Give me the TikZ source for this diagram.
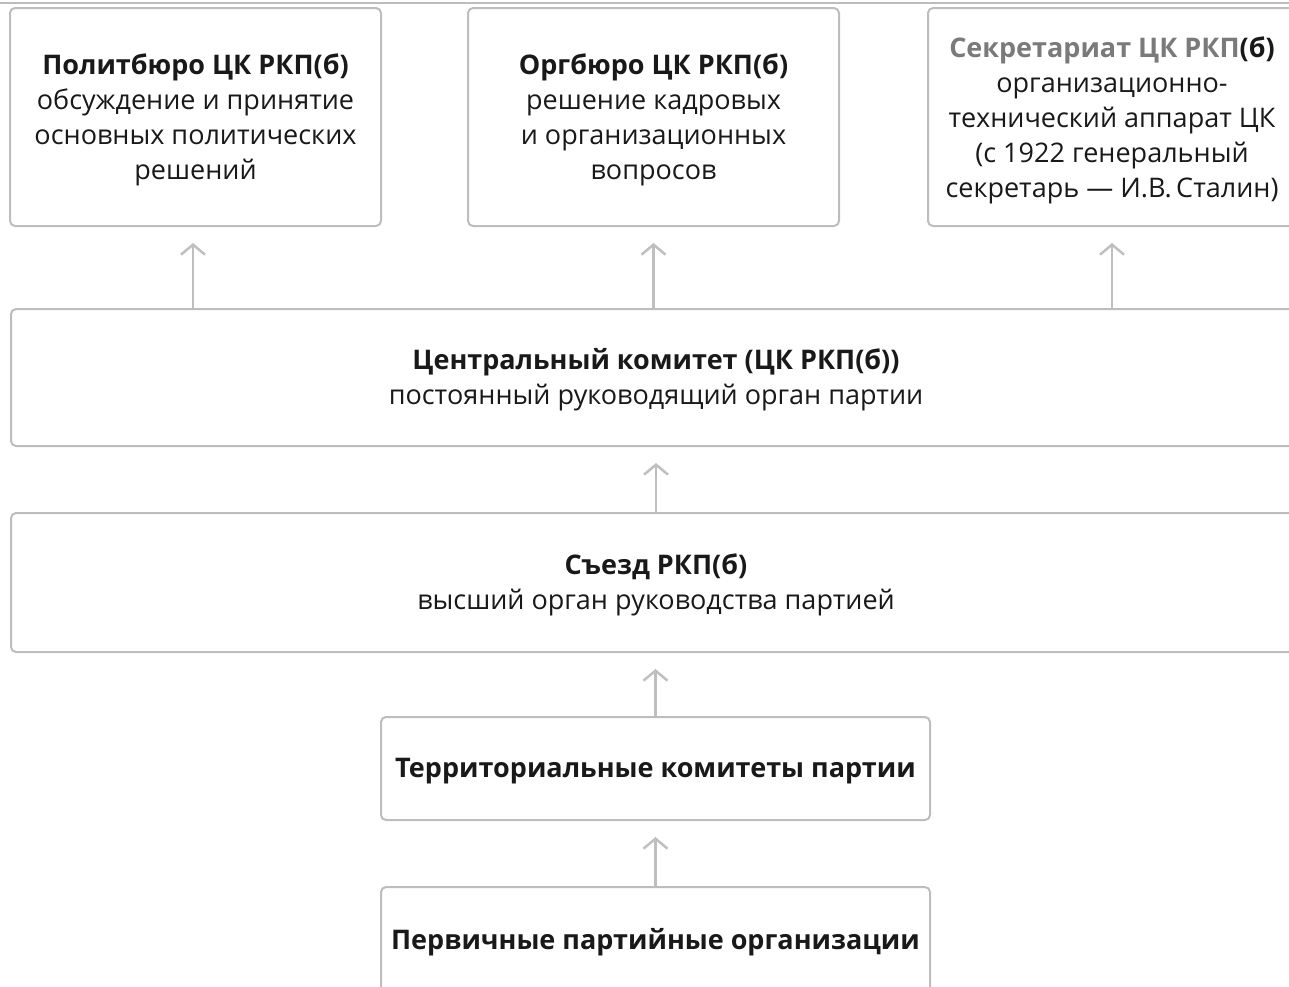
\documentclass[tikz,border=0pt]{standalone}
\usepackage{fontspec}
\setmainfont{Open Sans}
\usetikzlibrary{arrows.meta}
\definecolor{boxline}{HTML}{BDBDBD}
\definecolor{arrowc}{HTML}{BFBFBF}
\definecolor{titlegray}{HTML}{7A7A7A}
\begin{document}
\begin{tikzpicture}[x=1pt,y=-1pt,
  box/.style={draw=boxline,line width=2pt,rounded corners=5pt,fill=white,inner sep=0pt},
  txt/.style={align=center,font=\fontsize{27}{35}\selectfont,text=black!90,inner sep=0pt},
  up/.style={draw=arrowc,line width=2.5pt,-{Straight Barb[length=10pt,width=24pt,line width=2.5pt]}}]
\useasboundingbox (0,0) rectangle (1289,986);
\clip (0,0) rectangle (1289,986);
\draw[boxline,line width=2pt] (0,3) -- (1289,3);
% top row
\node[box,minimum width=371,minimum height=218] (pb) at (195.5,117) {};
\node[txt] (pbt) at (195.5,120) {\textbf{Политбюро ЦК РКП(б)}\\обсуждение и принятие\\основных политических\\решений};
\node[box,minimum width=371,minimum height=218] (ob) at (653.5,117) {};
\node[txt] (obt) at (653.5,120) {\textbf{Оргбюро ЦК РКП(б)}\\решение кадровых\\и организационных\\вопросов};
\node[box,minimum width=400,minimum height=218,anchor=west] (sk) at (927,117) {};
\node[txt] (skt) at (1112,120) {\textbf{\textcolor{titlegray}{Секретариат ЦК РКП}(б)}\\организационно-\\технический аппарат ЦК\\(с 1922 генеральный\\секретарь — И.В.\,Сталин)};
% CK
\node[box,minimum width=1320,minimum height=137,anchor=west] (ck) at (10,377.5) {};
\node[txt] (ckt) at (656,380) {\textbf{Центральный комитет (ЦК РКП(б))}\\постоянный руководящий орган партии};
% Congress
\node[box,minimum width=1320,minimum height=139,anchor=west] (sz) at (10,582.5) {};
\node[txt] (szt) at (656,585) {\textbf{Съезд РКП(б)}\\высший орган руководства партией};
% territorial
\node[box,minimum width=549,minimum height=103] (tk) at (655.5,768.5) {};
\node[txt] (tkt) at (655.5,771) {\textbf{Территориальные комитеты партии}};
\node[box,minimum width=549,minimum height=110,anchor=north] (po) at (655.5,886) {};
\node[txt] (pot) at (655.5,942) {\textbf{Первичные партийные организации}};
% arrows
\coordinate (ck1) at (193,308);
\coordinate (ck3) at (1112,308);
\draw[up] (ck1) -- ([yshift=-16pt]ck1 |- pb.south);
\draw[up] (ck.north -| ob.south) -- ([yshift=-16pt]ob.south);
\draw[up] (ck3) -- ([yshift=-16pt]ck3 |- sk.south);
\draw[up] (sz.north -| ckt) -- ([yshift=-16pt]ck.south -| ckt);
\draw[up] (tk.north) -- ([yshift=-16pt]sz.south -| tk);
\draw[up] (po.north) -- ([yshift=-16pt]tk.south);
\end{tikzpicture}
\end{document}
